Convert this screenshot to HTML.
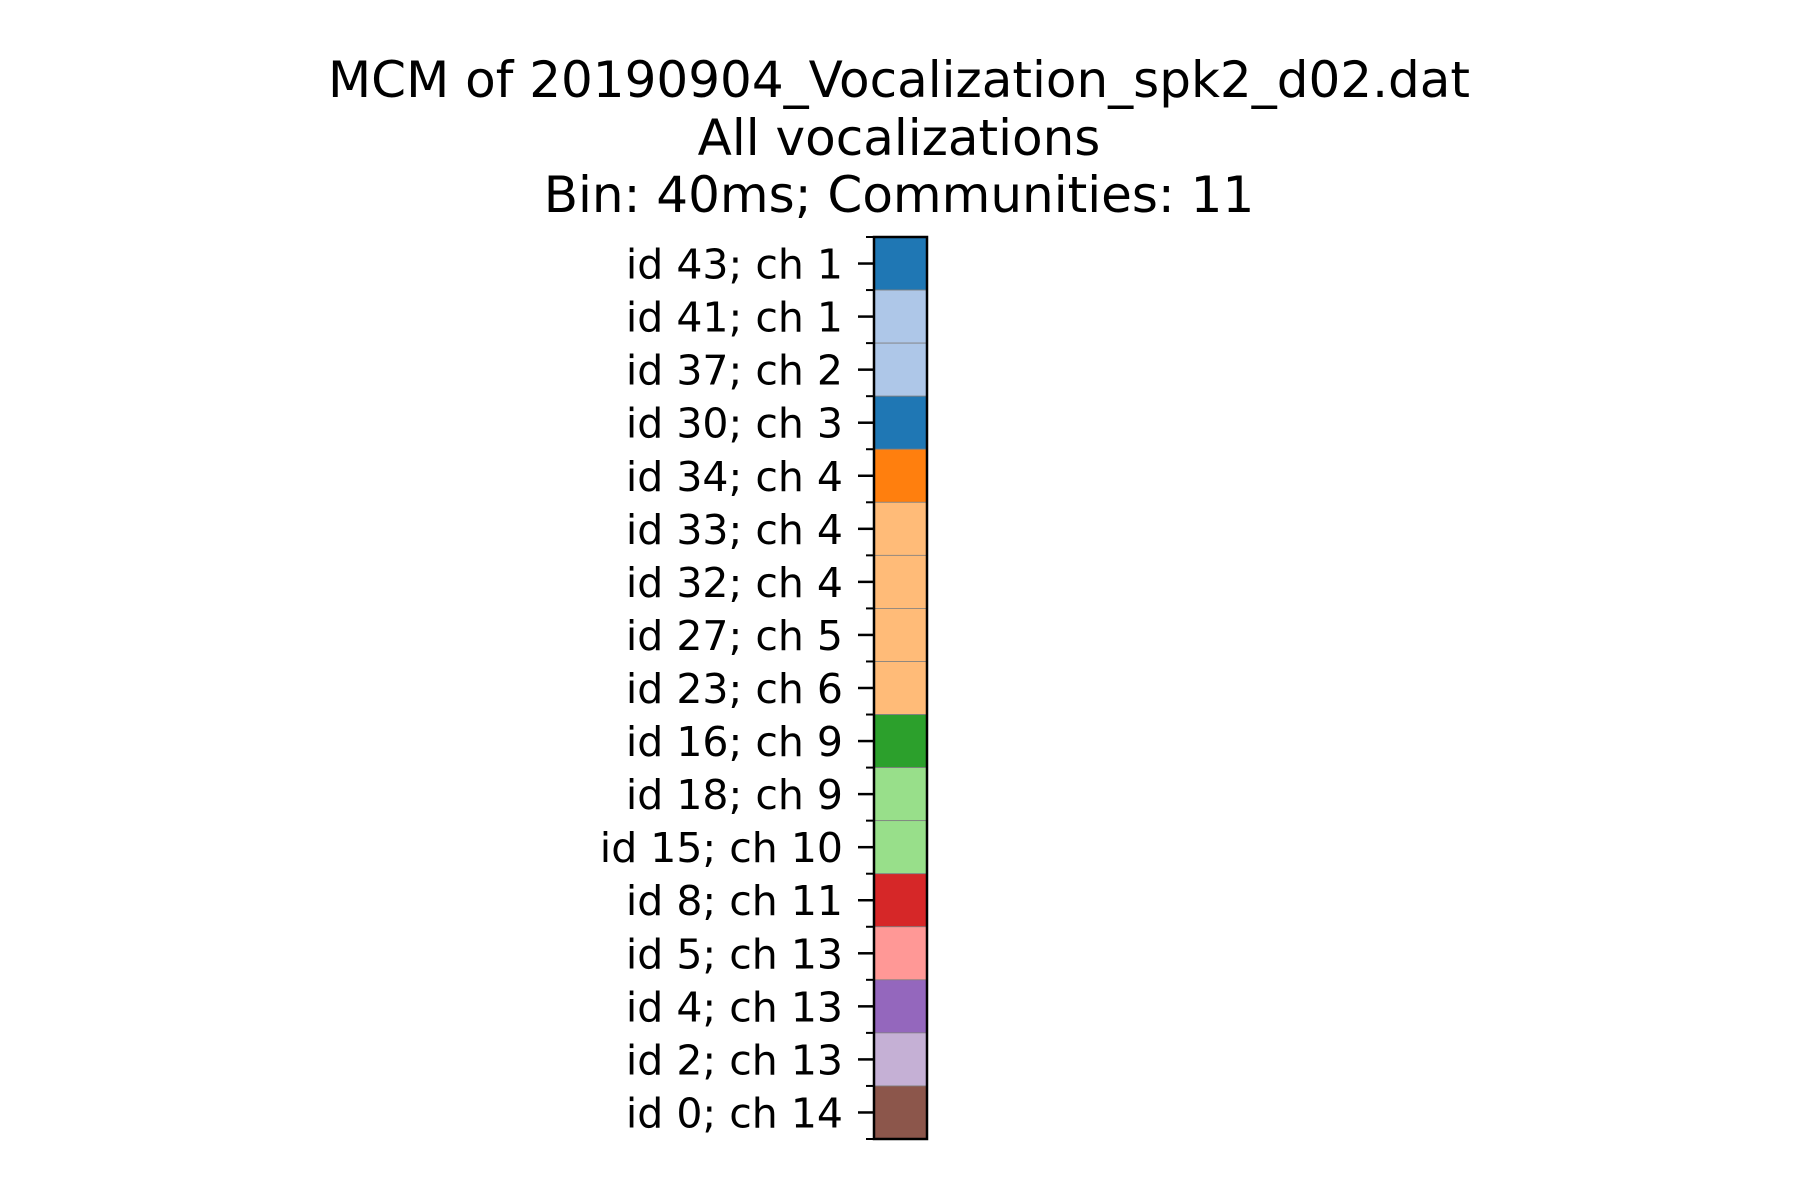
<!DOCTYPE html>
<html><head><meta charset="utf-8"><style>body{margin:0;background:#fff}svg{display:block}</style></head>
<body>
<svg id="chart" width="1800" height="1200" viewBox="0 0 1800 1200" xmlns="http://www.w3.org/2000/svg" font-family="'DejaVu Sans','Liberation Sans',sans-serif">
<g font-size="50" text-anchor="middle" fill="#000">
<text x="899" y="97">MCM of 20190904_Vocalization_spk2_d02.dat</text>
<text x="899" y="155">All vocalizations</text>
<text x="899" y="212">Bin: 40ms; Communities: 11</text>
</g>
<g id="plot"></g>
</svg>
<script>
const labels = ["id 43; ch 1","id 41; ch 1","id 37; ch 2","id 30; ch 3","id 34; ch 4","id 33; ch 4","id 32; ch 4","id 27; ch 5","id 23; ch 6","id 16; ch 9","id 18; ch 9","id 15; ch 10","id 8; ch 11","id 5; ch 13","id 4; ch 13","id 2; ch 13","id 0; ch 14"];
const community = [0,1,1,0,2,3,3,3,3,4,5,5,6,7,8,9,10];
const palette = ["#1f77b4","#aec7e8","#ff7f0e","#ffbb78","#2ca02c","#98df8a","#d62728","#ff9896","#9467bd","#c5b0d5","#8c564b"];
(function(){
const NS="http://www.w3.org/2000/svg";
const g=document.getElementById('plot');
const x0=874,x1=927,yTop=237,yBot=1139;
const rh=(yBot-yTop)/labels.length;
const yAt=i=>yTop+i*rh;
function mk(t,a){const e=document.createElementNS(NS,t);for(const k in a)e.setAttribute(k,a[k]);g.appendChild(e);return e;}
labels.forEach((lab,i)=>{
  const r=mk('rect',{x:x0,y:yAt(i),width:x1-x0,height:rh,fill:palette[community[i]],stroke:'#808080','stroke-width':0.8});
  
  
  const t=mk('line',{x1:858,x2:x0,y1:yAt(i)+rh/2,y2:yAt(i)+rh/2,stroke:'#000','stroke-width':2.5});
  
  
  const tx=mk('text',{x:843,y:yAt(i)+rh/2+15,'font-size':41,'text-anchor':'end',fill:'#000'});
  tx.textContent=lab;
  
  
});
for(let i=0;i<=labels.length;i++){
  const m=mk('line',{x1:866,x2:x0,y1:yAt(i),y2:yAt(i),stroke:'#000','stroke-width':2});
  
  
}
const f=mk('rect',{x:x0,y:yTop,width:x1-x0,height:yBot-yTop,fill:'none',stroke:'#000','stroke-width':2.5});


})();
</script>
</body></html>
